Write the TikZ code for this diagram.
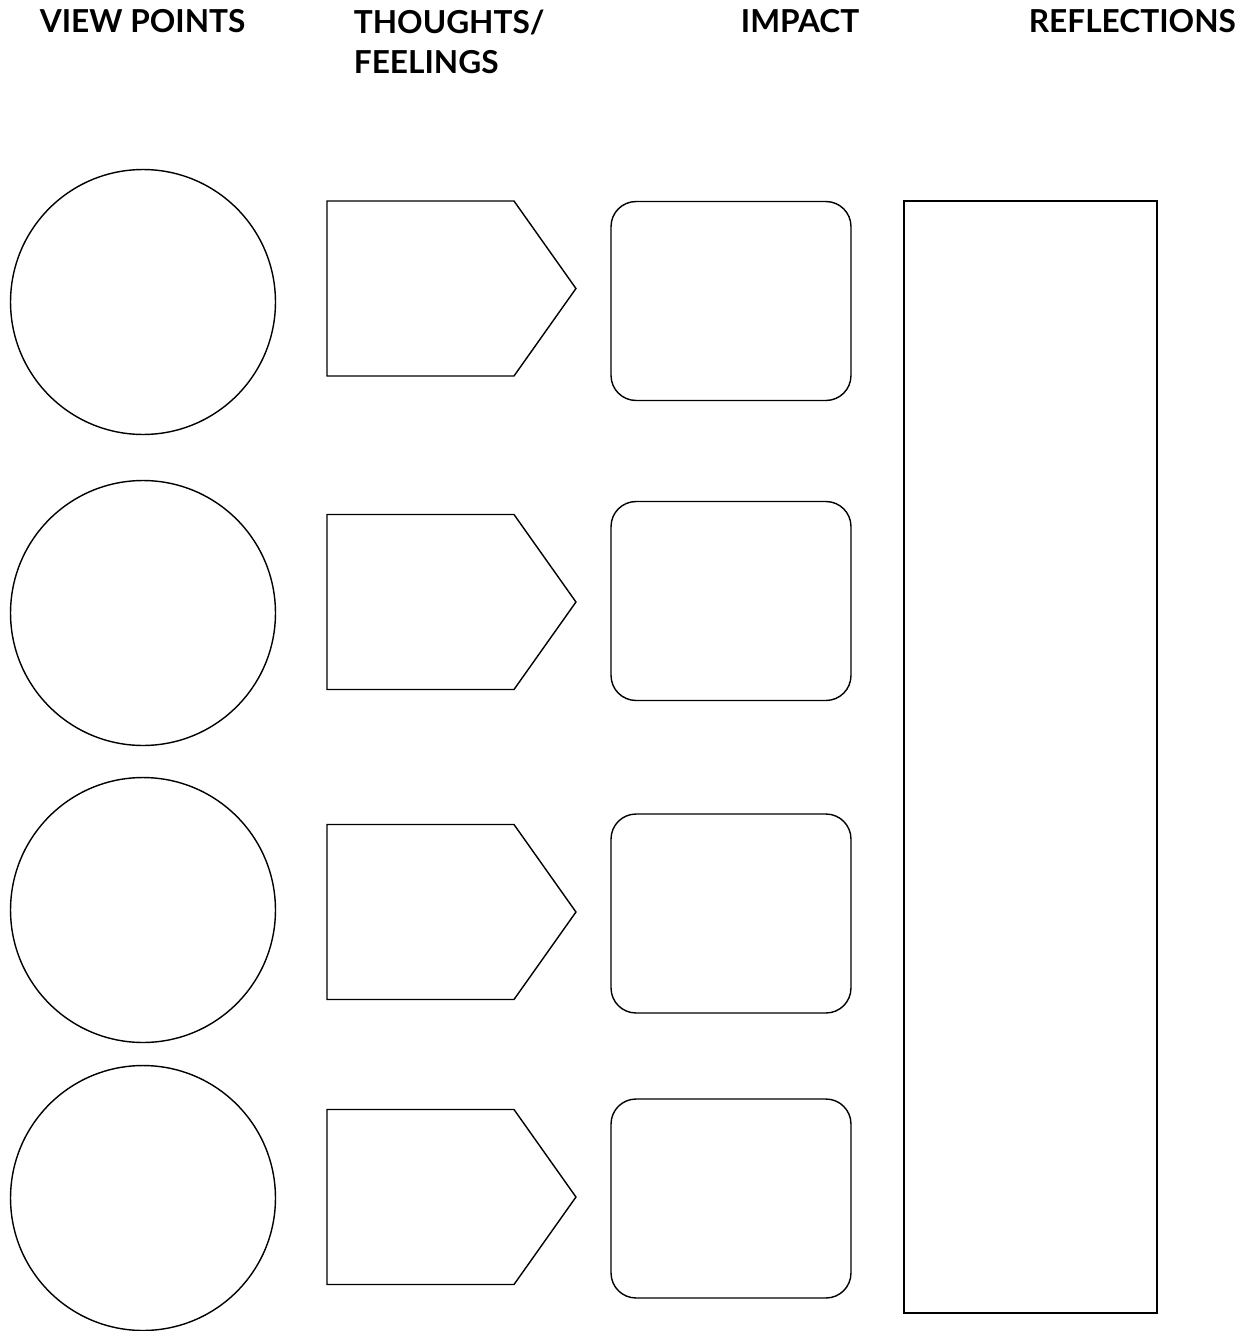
\documentclass[tikz,border=0pt]{standalone}
\usepackage{fontspec}
\setmainfont{Lato}
\usetikzlibrary{shapes.symbols}

\tikzset{
  head/.style={font=\fontsize{18}{23.3}\selectfont\bfseries, inner sep=0pt, anchor=base west},
  viewpt/.style={draw, circle, line width=0.8pt, minimum size=5.3cm, inner sep=0pt},
  thought/.style={draw, signal, signal to=east, signal pointer angle=109.4, line width=0.8pt,
    minimum width=4.98cm, minimum height=3.5cm, inner sep=0pt},
  impact/.style={draw, rectangle, rounded corners=0.5cm, line width=0.8pt,
    minimum width=4.8cm, minimum height=3.98cm, inner sep=0pt}
}

\begin{document}
\begin{tikzpicture}[x=0.02cm, y=-0.02cm]
\useasboundingbox (0,0) rectangle (1252,1331);

% column headings
\node[head] (hview) at (39.5,33) {VIEW POINTS};
\node[head, align=left] (hthink) at (353.5,74) {THOUGHTS/\\FEELINGS};
\node[head] (himpact) at (740.5,33) {IMPACT};
\node[head] (hrefl) at (1028.5,33) {REFLECTIONS};

% view points
\node[viewpt] (view1) at (143,302) {};
\node[viewpt] (view2) at (143,613) {};
\node[viewpt] (view3) at (143,910) {};
\node[viewpt] (view4) at (143,1198) {};

% thoughts / feelings
\node[thought] (think1) at (420.5,288.5) {};
\node[thought] (think2) at (420.5,602) {};
\node[thought] (think3) at (420.5,912) {};
\node[thought] (think4) at (420.5,1197) {};

% impact
\node[impact] (impact1) at (731,301) {};
\node[impact] (impact2) at (731,601) {};
\node[impact] (impact3) at (731,913.5) {};
\node[impact] (impact4) at (731,1198.5) {};

% reflections
\node[draw, rectangle, line width=1.1pt, minimum width=5.06cm, minimum height=22.24cm,
  inner sep=0pt] (refl) at (1030.5,757) {};
\end{tikzpicture}
\end{document}
